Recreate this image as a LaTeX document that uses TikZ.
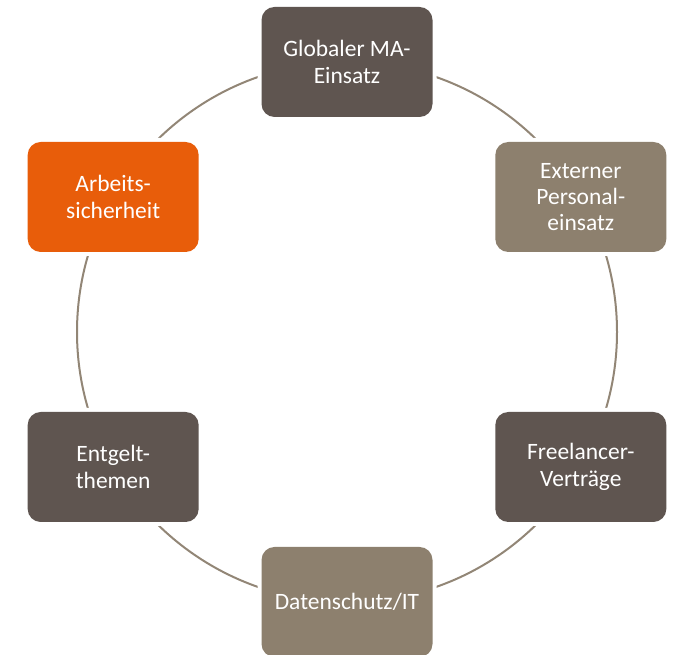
\documentclass[tikz,border=0pt]{standalone}
\usepackage{fontspec}
\setmainfont{Carlito}
\usetikzlibrary{positioning}

\definecolor{darkbrown}{RGB}{95,85,80}
\definecolor{lightbrown}{RGB}{141,128,110}
\definecolor{signalorange}{RGB}{232,93,10}
\definecolor{ringgray}{RGB}{146,134,118}

\begin{document}
\begin{tikzpicture}[x=0.75pt, y=0.75pt,
    topic/.style={rectangle, rounded corners=9.75pt, minimum width=128.25pt,
        minimum height=82.5pt, text=white, align=center,
        font=\fontsize{17.6}{19.8}\selectfont,
        preaction={draw=white, line width=6pt}},
    dark/.style={topic, fill=darkbrown},
    light/.style={topic, fill=lightbrown},
    accent/.style={topic, fill=signalorange}]
    \useasboundingbox (0,0) rectangle (675,655);
    \coordinate (c) at (347,323);

    % ring behind the topics
    \draw[ringgray, line width=1.5pt] (c) circle (270);

    \begin{scope}[shift={(c)}]
        \node[dark] (glob) at (90:270) {Globaler MA-\\Einsatz};
        \node[light] (ext) at (30:270) {Externer\\Personal-\\einsatz};
        \node[dark] (free) at (-30:270) {Freelancer-\\Verträge};
        \node[light] (daten) at (-90:270) {Datenschutz/IT};
        \node[dark] (entgelt) at (-150:270) {Entgelt-\\themen};
        \node[accent] (arbeit) at (150:270) {Arbeits-\\sicherheit};
    \end{scope}
\end{tikzpicture}
\end{document}
